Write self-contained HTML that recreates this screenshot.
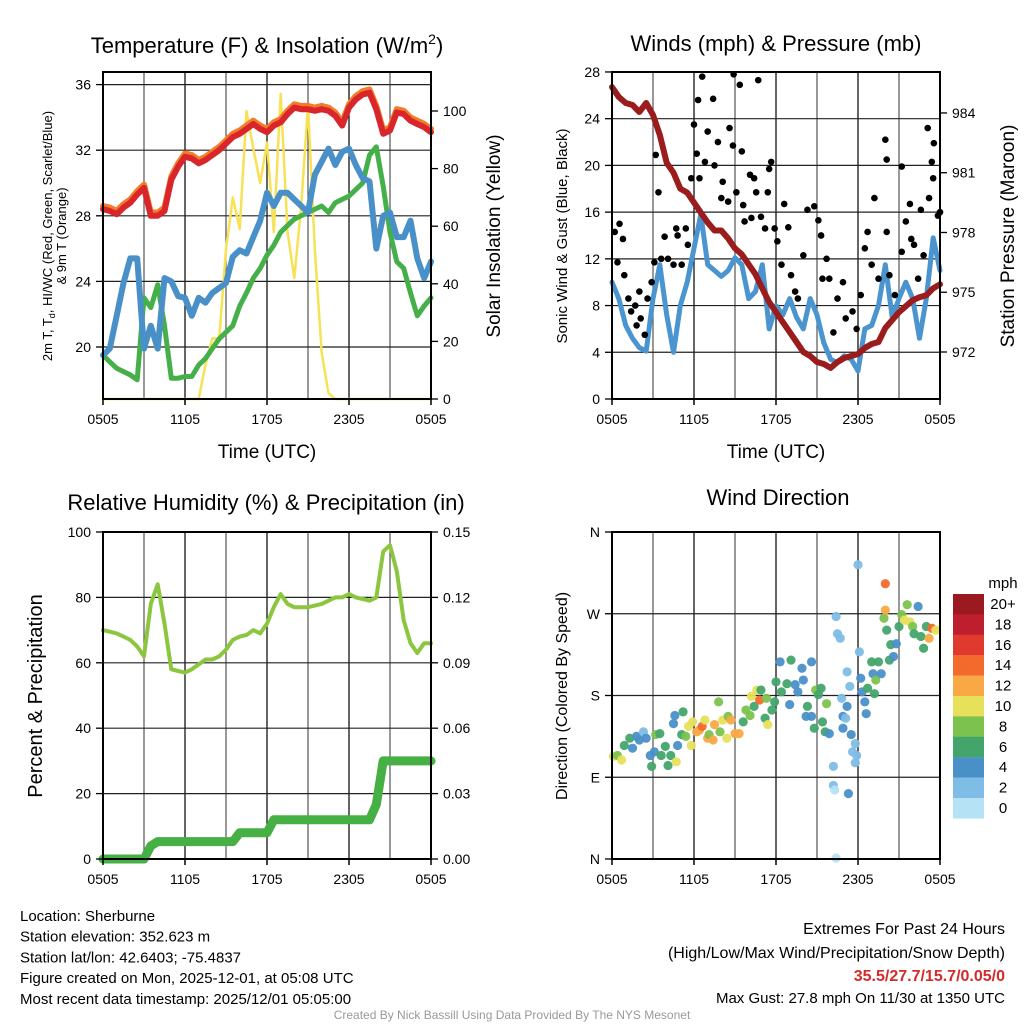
<!DOCTYPE html>
<html><head><meta charset="utf-8"><style>
body{margin:0;background:#fff}
svg{display:block;font-family:"Liberation Sans",sans-serif}
</style></head><body>
<svg id="c" width="1024" height="1024" viewBox="0 0 1024 1024"></svg>
<script>
// ---------- DATA ----------
const tempRed=[28.4,28.3,28.1,28.5,28.8,29.3,29.7,28.0,28.0,28.3,30.2,31.0,31.6,31.5,31.2,31.4,31.7,32.0,32.4,32.8,33.0,33.3,33.6,33.3,33.1,33.5,33.7,34.2,34.6,34.5,34.5,34.4,34.5,34.4,34.1,33.5,34.6,35.1,35.4,35.5,34.5,33.0,33.2,34.3,34.2,33.8,33.6,33.4,33.1];
const tempOrange=[28.6,28.5,28.3,28.7,29.0,29.5,29.9,28.2,28.2,28.5,30.4,31.2,31.8,31.7,31.4,31.6,31.9,32.2,32.6,33.0,33.2,33.5,33.8,33.5,33.3,33.7,33.9,34.4,34.8,34.7,34.7,34.6,34.7,34.6,34.3,33.7,34.8,35.3,35.6,35.7,34.7,33.2,33.4,34.5,34.4,34.0,33.8,33.6,33.3];
const tempBlue=[19.5,19.9,21.9,23.9,25.4,25.4,19.9,21.3,19.9,24.2,24.0,23.1,23.0,21.9,23.0,22.7,23.3,23.6,23.9,25.5,25.9,25.7,26.7,27.7,29.4,28.6,29.4,29.4,29.0,28.6,28.2,30.5,31.3,32.1,31.1,31.9,32.1,31.1,30.3,30.1,26.0,28.0,28.2,26.7,26.7,27.7,25.4,24.2,25.2];
const tempGreen=[19.5,19.1,18.7,18.5,18.3,18.0,23.0,22.4,23.8,21.3,18.1,18.1,18.2,18.2,18.9,19.3,19.9,20.5,20.9,21.3,22.5,23.3,24.2,24.8,25.6,26.2,27.0,27.4,27.8,28.0,28.2,28.4,28.6,28.2,28.8,29.0,29.2,29.6,30.0,31.7,32.2,29.8,27.0,25.2,24.8,23.3,21.9,22.5,23.0];
const solar=[0,0,0,0,0,0,0,0,0,0,0,0,0,0,0,12,21,21,52,70,59,100,87,75,89,58,106,58,42,67,102,52,16,2,0,0,0,0,0,0,0,0,0,0,0,0,0,0,0];
const windSpeed=[10,8.6,6.3,5.2,4.4,4.1,8.6,11.5,7.2,4,8,10,12.9,15.8,11.5,11,10.5,11,12.1,11.5,8.6,9.2,11.5,6,8,7.2,8.6,7,6,8.6,7.2,4.8,3.4,3.1,3.7,3.4,2.4,6,6.3,8,11.5,7,8.6,10,8.6,5.2,8.6,13.8,11];
const pressure=[985.3,984.8,984.5,984.4,984.05,984.5,983.9,982.9,981.5,981.0,980.2,980.0,979.5,979.0,978.5,978.1,978.1,977.7,977.2,976.9,976.4,975.9,975.2,974.5,974.0,973.5,973.0,972.5,972.0,971.8,971.5,971.4,971.2,971.5,971.7,971.8,971.9,972.2,972.4,972.5,973.2,973.6,974.0,974.3,974.6,974.75,974.85,975.2,975.4];
const gustHours=[0.2,0.55,0.8,0.4,0.9,1.2,1.4,1.7,2.0,1.8,2.1,2.4,2.6,2.9,3.1,3.2,3.4,3.6,3.85,4.1,4.5,4.7,4.8,5.1,5.4,5.55,5.8,6.0,6.2,6.3,6.6,6.4,6.8,7.0,7.4,7.5,7.75,8.0,8.1,8.5,8.6,8.85,8.9,9.1,9.35,9.5,9.6,9.7,10.1,10.2,10.4,10.55,10.7,10.9,11.2,11.4,11.5,11.65,11.9,12.1,12.4,12.6,12.9,13.1,13.4,13.6,14.0,14.3,14.8,15.1,15.3,15.4,15.7,15.9,16.2,16.5,16.9,17.1,17.6,17.9,18.2,18.5,18.7,19.0,19.2,19.5,20.0,20.1,20.1,20.3,20.7,21.2,21.2,21.5,21.8,21.9,22.1,22.4,22.6,22.8,23.1,23.2,23.4,23.55,23.5,23.85,24.0];
const gustValues=[14.3,15.0,13.7,11.7,10.6,8.6,7.5,8.0,9.2,6.3,6.9,5.5,8.6,10,11.7,20.9,17.7,12.0,13.9,12.0,11.5,14.6,14.0,11.5,14.6,13.2,18.9,23.5,21.0,25.6,27.6,18.9,20.3,22.9,25.7,20.0,22.0,17.2,18.6,16.9,23.2,21.7,27.8,17.7,26.9,21.2,16.6,15.2,19.2,15.5,18.9,17.7,27.3,15.6,14.6,17.7,19.7,20.3,14.6,13.5,11.5,16.7,14.7,10.6,9.2,8.6,12.3,16.2,16.5,15.3,14.0,10.3,12.0,10.3,5.7,8.6,10.0,6.9,7.5,6.0,8.9,12.9,14.3,11.5,17.2,10.3,22.2,20.5,14.3,10.6,8.9,19.9,12.6,15.2,16.7,13.7,13.2,10.3,16.2,12.3,23.2,17.2,20.3,21.9,18.9,15.7,16.0];
const rh=[70,69.5,69,68,67,65,62,78,84,72,58,57.5,57,58,59.5,61,61,62,64,67,68,68.5,70,69,72,77,81,78,77,77,77,77.5,78,79,80,80,81,80,79.5,79,80,94,96,88,73,66,63,66,66];
const precip=[0,0,0,0,0,0,0,0.006,0.008,0.008,0.008,0.008,0.008,0.008,0.008,0.008,0.008,0.008,0.008,0.008,0.012,0.012,0.012,0.012,0.012,0.018,0.018,0.018,0.018,0.018,0.018,0.018,0.018,0.018,0.018,0.018,0.018,0.018,0.018,0.018,0.025,0.045,0.045,0.045,0.045,0.045,0.045,0.045,0.045];
const dirHours=[0.1,0.4,0.7,0.9,1.3,1.5,1.8,2.0,2.3,2.5,2.8,2.9,3.1,3.2,3.5,3.6,3.9,4.1,4.3,4.5,4.6,4.7,4.8,5.1,5.2,5.4,5.6,5.8,5.9,6.2,6.4,6.6,6.8,7.0,7.1,7.4,7.5,7.8,7.9,8.1,8.4,8.5,8.7,9.0,9.3,9.6,9.8,10.1,10.2,10.4,10.6,10.8,10.9,11.2,11.3,11.4,11.7,11.9,12.0,12.3,12.4,12.8,13.0,13.1,13.4,13.6,13.9,14.0,14.2,14.3,14.6,14.6,14.8,14.9,15.1,15.3,15.4,15.6,15.7,15.9,16.2,16.2,16.3,16.4,16.5,16.7,16.8,16.9,16.9,17.1,17.2,17.2,17.3,17.4,17.5,17.6,17.8,17.9,17.8,18.0,18.1,18.2,18.3,18.5,18.6,18.7,19.0,19.1,19.2,19.3,19.5,19.7,19.9,20.0,20.0,20.1,20.3,20.4,20.6,20.8,21.0,21.2,21.4,21.6,21.8,22.0,22.1,22.4,22.6,22.8,23.0,23.2,23.4,23.7,16.4];
const dirDegrees=[113,114,109,125,133,122,135,131,140,133,114,102,118,137,138,114,124,103,114,149,158,107,125,137,162,135,146,125,151,140,142,146,153,133,137,131,148,173,140,153,133,157,153,138,138,151,164,158,179,168,186,175,186,155,177,148,164,173,195,217,184,193,170,219,192,184,210,197,157,168,157,217,144,186,181,188,151,140,171,138,102,81,76,267,248,243,177,157,144,155,206,168,72,190,137,118,127,114,106,324,228,199,184,173,160,188,217,204,182,197,217,204,265,274,303,252,219,236,223,237,256,269,263,280,261,256,248,278,245,232,256,243,254,252,1];
const dirSpeeds=[10,8,10,6,6,4,4,4,3,4,5,6,5,9,6,7,7,7,6,4,4,10,5,6,6,9,10,10,10,12,12,15,10,13,8,13,12,8,8,11,10,8,12,13,12,7,8,8,10,6,10,15,7,7,8,10,6,6,6,4,6,7,4,6,4,4,4,5,4,6,4,4,7,8,7,6,6,6,8,4,2,2,1,2,2,2,3,4,4,2,2,4,4,2,4,2,2,2,2,2,2,4,5,4,4,6,6,4,6,8,6,4,8,13,14,6,6,6,4,4,6,8,10,8,10,8,7,4,6,6,6,12,14,10,1];
const xTickLabels=["0505","1105","1705","2305","0505"];
const speedLabels=["20+","18","16","14","12","10","8","6","4","2","0"];
const speedColors=["#9b1a1f","#be1e2d","#e03a2e","#f26a2c","#f8a945","#e6e05a","#7cc24e","#44a56c","#4a90c8","#7fbde6","#b6e2f6"];

// ---------- HELPERS ----------
const S=document.getElementById('c');
const NS='http://www.w3.org/2000/svg';
function mk(tag,attrs,parent,text){const e=document.createElementNS(NS,tag);for(const k in attrs)e.setAttribute(k,attrs[k]);if(text!==undefined)e.textContent=text;(parent||S).appendChild(e);return e;}
function txt(x,y,s,size,anchor,extra,name){const e=mk('text',Object.assign({x:x,y:y,'font-size':size,'text-anchor':anchor||'middle',fill:'#000'},extra||{}),S,s);


return e;}
function hoursOf(n){return Array.from({length:n},(_,i)=>i*24/(n-1));}
function panel(x0,y0,w,h,name){
 const g=mk('g',{});
 
 
 return {x0,y0,w,h,g,xs:t=>x0+t/24*w};
}
function grid(p,yVals,ys){
 for(let i=1;i<8;i++){const x=p.x0+i*p.w/8;const l=mk('line',{x1:x,x2:x,y1:p.y0,y2:p.y0+p.h,stroke:i%2?'#555':'#000','stroke-width':1.2},p.g);
 
 }
 yVals.forEach(v=>{const y=ys(v);if(y>p.y0+1&&y<p.y0+p.h-1){const l=mk('line',{x1:p.x0,x2:p.x0+p.w,y1:y,y2:y,stroke:'#222','stroke-width':1.2},p.g);
 
 }});
}
function frame(p){
 const r=mk('rect',{x:p.x0,y:p.y0,width:p.w,height:p.h,fill:'none',stroke:'#000','stroke-width':2});
 
 
 xTickLabels.forEach((s,i)=>{const x=p.x0+i*p.w/4;mk('line',{x1:x,x2:x,y1:p.y0+p.h,y2:p.y0+p.h+6,stroke:'#000','stroke-width':1.5});
 txt(x,p.y0+p.h+25,s,14,'middle',{},'x-tick-label');});
}
function leftTicks(p,vals,ys,labels){vals.forEach((v,i)=>{const y=ys(v);mk('line',{x1:p.x0-7,x2:p.x0,y1:y,y2:y,stroke:'#000','stroke-width':1.3});
 txt(p.x0-12,y+5,labels[i],14,'end',{},'y-tick-label');});}
function rightTicks(p,vals,ys,labels){vals.forEach((v,i)=>{const y=ys(v);mk('line',{x1:p.x0+p.w,x2:p.x0+p.w+7,y1:y,y2:y,stroke:'#000','stroke-width':1.3});
 txt(p.x0+p.w+12,y+5,labels[i],14,'start',{},'y2-tick-label');});}
function path(p,hours,vals,ys,color,width,name){
 const d=vals.map((v,i)=>(i?'L':'M')+p.xs(hours[i]).toFixed(1)+','+ys(v).toFixed(1)).join('');
 const e=mk('path',{d:d,fill:'none',stroke:color,'stroke-width':width,'stroke-linejoin':'round','stroke-linecap':'round'},p.g);
 
 
}
function vlabel(x,y,s,size,name){const e=txt(x,y,s,size,'middle',{transform:'rotate(-90 '+x+' '+y+')'},name);return e;}

// ---------- PANEL 1 ----------
let p=panel(103,72,328,327,'temperature-panel');
let ysT=v=>347-(v-20)*16.4, ysS=v=>399-v*2.88;
grid(p,[20,24,28,32,36],ysT);
let H=hoursOf(49);
path(p,H,solar,ysS,'#f7e255',2.5,'solar-insolation-line');
path(p,H,tempGreen,ysT,'#45b04a',5,'dewpoint-line');
path(p,H,tempBlue,ysT,'#4a90c8',6,'heat-index-windchill-line');
path(p,H,tempOrange,ysT,'#f47b2a',6,'temp-9m-line');
path(p,H,tempRed,ysT,'#d8262b',6,'temp-2m-line');
frame(p);
leftTicks(p,[20,24,28,32,36],ysT,['20','24','28','32','36']);
rightTicks(p,[0,20,40,60,80,100],ysS,['0','20','40','60','80','100']);
let t1=txt(267,53,'',22,'middle',{},'temperature-title');
t1.innerHTML='Temperature (F) &amp; Insolation (W/m<tspan font-size="14" dy="-9">2</tspan><tspan dy="9">)</tspan>';
txt(267,458,'Time (UTC)',19,'middle',{},'x-axis-title');
let yl=vlabel(52,236,'',13,'y-axis-title');
yl.innerHTML='2m T, T<tspan font-size="9" dy="3">d</tspan><tspan dy="-3">, HI/WC (Red, Green, Scarlet/Blue)</tspan>';
vlabel(66,236,'& 9m T (Orange)',13,'y-axis-title-line2');
vlabel(500,236,'Solar Insolation (Yellow)',19,'y2-axis-title');

// ---------- PANEL 2 ----------
p=panel(612,72,328,327,'winds-panel');
let ysW=v=>399-v*11.68, ysP=v=>352-(v-972)*19.92;
grid(p,[0,4,8,12,16,20,24,28],ysW);
path(p,H,windSpeed,ysW,'#4a95d0',5,'sonic-wind-line');
gustHours.forEach((t,i)=>{const c=mk('circle',{cx:p.xs(t),cy:ysW(gustValues[i]),r:3.3,fill:'#000'},p.g);

});
path(p,H,pressure,ysP,'#9b1c1c',6,'pressure-line');
frame(p);
leftTicks(p,[0,4,8,12,16,20,24,28],ysW,['0','4','8','12','16','20','24','28']);
rightTicks(p,[972,975,978,981,984],ysP,['972','975','978','981','984']);
txt(776,51,'Winds (mph) & Pressure (mb)',22,'middle',{},'winds-title');
txt(776,458,'Time (UTC)',19,'middle',{},'x-axis-title');
vlabel(567,236,'Sonic Wind & Gust (Blue, Black)',15,'y-axis-title');
vlabel(1014,236,'Station Pressure (Maroon)',19,'y2-axis-title');

// ---------- PANEL 3 ----------
p=panel(103,532,328,327,'humidity-panel');
let ysR=v=>859-v*3.27, ysQ=v=>859-v/0.15*327;
grid(p,[0,20,40,60,80,100],ysR);
path(p,H,precip,ysQ,'#46b044',9,'precipitation-line');
path(p,H,rh,ysR,'#8cc63f',4,'relative-humidity-line');
frame(p);
leftTicks(p,[0,20,40,60,80,100],ysR,['0','20','40','60','80','100']);
rightTicks(p,[0,0.03,0.06,0.09,0.12,0.15],ysQ,['0.00','0.03','0.06','0.09','0.12','0.15']);
txt(266,510,'Relative Humidity (%) & Precipitation (in)',22,'middle',{},'humidity-title');
vlabel(42,696,'Percent & Precipitation',20,'y-axis-title');

// ---------- PANEL 4 ----------
p=panel(612,532,328,327,'wind-direction-panel');
let ysD=v=>859-v/360*327;
grid(p,[0,90,180,270,360],ysD);
function colorOf(s){let i=Math.min(10,Math.floor(s/2));return speedColors[10-i];}
dirHours.forEach((t,i)=>{const c=mk('circle',{cx:p.xs(t),cy:ysD(dirDegrees[i]),r:4.6,fill:colorOf(dirSpeeds[i]),'fill-opacity':0.95},p.g);

});
frame(p);
leftTicks(p,[0,90,180,270,360],ysD,['N','E','S','W','N']);
txt(778,505,'Wind Direction',22,'middle',{},'wind-direction-title');
vlabel(567,696,'Direction (Colored By Speed)',16,'y-axis-title');
// colorbar
txt(1003,588,'mph',15,'middle',{},'colorbar-title');
speedColors.forEach((c,i)=>{const r=mk('rect',{x:953,y:594+i*20.4,width:31,height:20.6,fill:c});


txt(1003,609+i*20.4,speedLabels[i],15,'middle',{},'colorbar-label');});

// ---------- FOOTER TEXT ----------
['Location: Sherburne','Station elevation: 352.623 m','Station lat/lon: 42.6403; -75.4837','Figure created on Mon, 2025-12-01, at 05:08 UTC','Most recent data timestamp: 2025/12/01 05:05:00'].forEach((s,i)=>txt(20,921+i*20.7,s,15,'start',{},'station-info'));
txt(1005,934,'Extremes For Past 24 Hours',16,'end',{},'extremes-heading');
txt(1005,958,'(High/Low/Max Wind/Precipitation/Snow Depth)',16,'end',{},'extremes-subheading');
txt(1005,981,'35.5/27.7/15.7/0.05/0',16,'end',{fill:'#d42a2a','font-weight':'bold'},'extremes-values');
txt(1005,1003,'Max Gust: 27.8 mph On 11/30 at 1350 UTC',15,'end',{},'max-gust');
txt(512,1019,'Created By Nick Bassill Using Data Provided By The NYS Mesonet',12,'middle',{fill:'#999'},'credit');
</script>
</body></html>
